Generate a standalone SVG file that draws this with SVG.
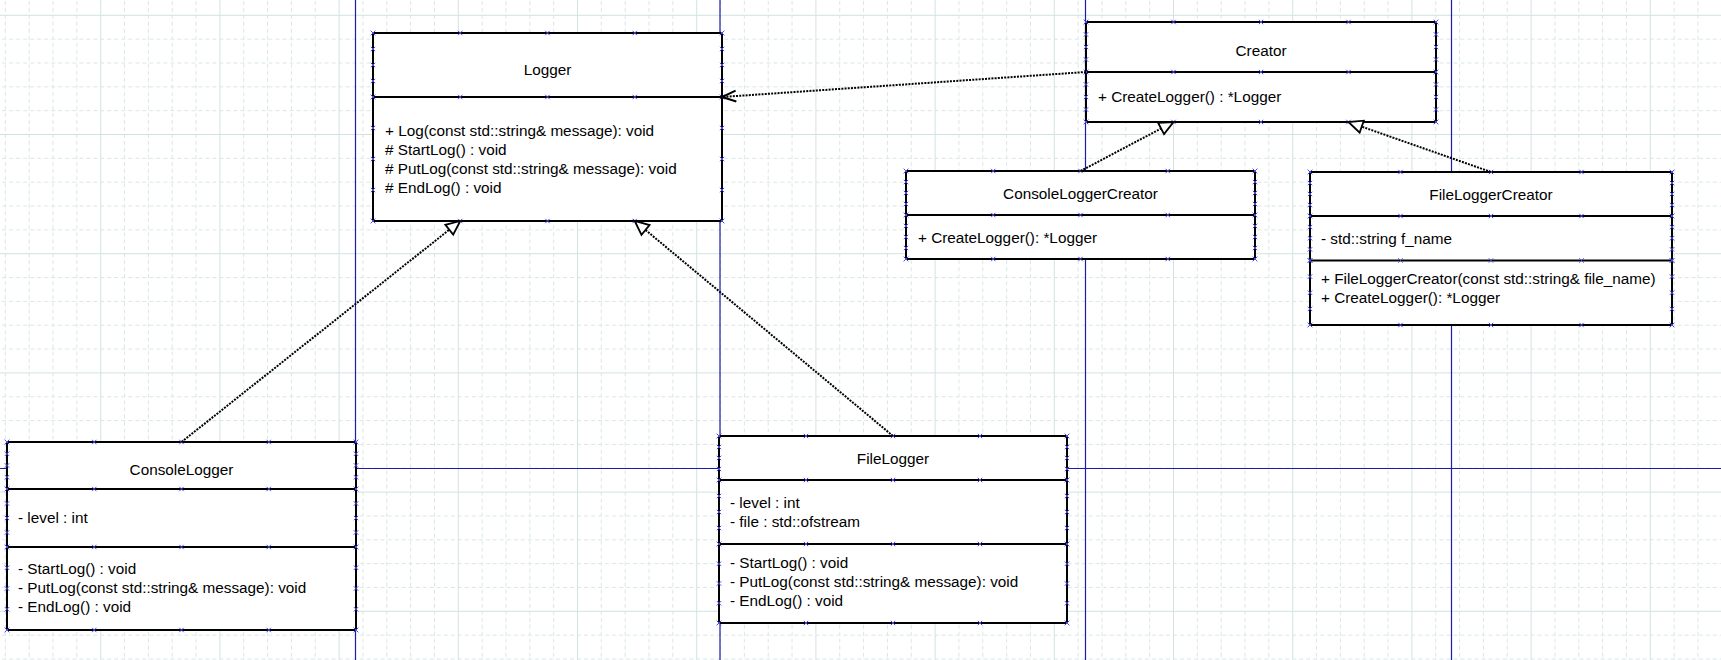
<svg xmlns="http://www.w3.org/2000/svg" width="1721" height="660" viewBox="0 0 1721 660">
<style>
.bx{fill:#fff;stroke:#000;stroke-width:2}
.dv{stroke:#000;stroke-width:2;fill:none}
text{font-family:"Liberation Sans",Arial,sans-serif;font-size:15.3px;fill:#000}
.t{text-anchor:middle}
.pts{fill:none;stroke:none;marker-start:url(#xm);marker-mid:url(#xm);marker-end:url(#xm)}
.conn{fill:none;stroke:#000;stroke-width:2;stroke-dasharray:2 1.2}
.inh{marker-end:url(#tri)}
.dep{marker-end:url(#vee)}
.gmaj{stroke:#d2e2e2;stroke-width:1;fill:none}
.gmin{stroke:#d9e6e6;stroke-width:1;fill:none;stroke-dasharray:4 3.012}
.blue{stroke:#1c1ca8;stroke-width:1.2;fill:none}
</style>
<defs>
<pattern id="grid" patternUnits="userSpaceOnUse" x="-19" y="14.8" width="119.2" height="119.2">
<path class="gmin" d="M24.34 0V119.2M48.18 0V119.2M72.02 0V119.2M95.86 0V119.2M0 24.34H119.2M0 48.18H119.2M0 72.02H119.2M0 95.86H119.2"/>
<path class="gmaj" d="M0.5 0V119.2M0 0.5H119.2"/>
</pattern>
<marker id="xm" markerUnits="userSpaceOnUse" markerWidth="8" markerHeight="8" refX="4" refY="4" viewBox="0 0 8 8" orient="0">
<path d="M1.8 1.8L6.2 6.2M6.2 1.8L1.8 6.2" stroke="#4a4ae6" stroke-width="1" fill="none"/>
</marker>
<marker id="tri" markerUnits="userSpaceOnUse" markerWidth="1" markerHeight="1" refX="0" refY="0" orient="auto" overflow="visible">
<path d="M0 0L-14 -6.3L-14 6.3Z" fill="#fff" stroke="#000" stroke-width="1.8"/>
</marker>
<marker id="vee" markerUnits="userSpaceOnUse" markerWidth="1" markerHeight="1" refX="0" refY="0" orient="auto" overflow="visible">
<path d="M-14 -5.5L0 0L-14 5.5" fill="none" stroke="#000" stroke-width="2"/>
</marker>
</defs>
<rect x="0" y="0" width="1721" height="660" fill="#fff"/>
<rect x="0" y="0" width="1721" height="660" fill="url(#grid)"/>
<g id="page-bounds">
<path class="blue" d="M355.5 0V660M720 0V660M1085.5 0V660M1451.5 0V660M0 468.5H1721"/>
</g>

<g id="Logger">
<rect class="bx" x="373" y="33" width="349" height="188"/>
<path class="dv" d="M373 97H722"/>
<text class="t" x="547.5" y="75">Logger</text>
<text x="385" y="135.5">+ Log(const std::string&amp; message): void</text>
<text x="385" y="154.5"># StartLog() : void</text>
<text x="385" y="173.5"># PutLog(const std::string&amp; message): void</text>
<text x="385" y="192.5"># EndLog() : void</text>
<path class="pts" d="M373 33H460.25H547.5H634.75H722M373 97H460.25H547.5H634.75H722M373 221H460.25H547.5H634.75H722M373 33V49V65V81V97V128V159V190V221M722 33V49V65V81V97V128V159V190V221"/>
</g>

<g id="Creator">
<rect class="bx" x="1086" y="22" width="350" height="100"/>
<path class="dv" d="M1086 72H1436"/>
<text class="t" x="1261" y="55.5">Creator</text>
<text x="1098" y="102">+ CreateLogger() : *Logger</text>
<path class="pts" d="M1086 22H1173.5H1261H1348.5H1436M1086 72H1173.5H1261H1348.5H1436M1086 122H1173.5H1261H1348.5H1436M1086 22V34.5V47V59.5V72V84.5V97V109.5V122M1436 22V34.5V47V59.5V72V84.5V97V109.5V122"/>
</g>

<g id="ConsoleLoggerCreator">
<rect class="bx" x="906" y="171" width="349" height="88"/>
<path class="dv" d="M906 215H1255"/>
<text class="t" x="1080.5" y="199">ConsoleLoggerCreator</text>
<text x="918" y="243">+ CreateLogger(): *Logger</text>
<path class="pts" d="M906 171H993.25H1080.5H1167.75H1255M906 215H993.25H1080.5H1167.75H1255M906 259H993.25H1080.5H1167.75H1255M906 171V182V193V204V215V226V237V248V259M1255 171V182V193V204V215V226V237V248V259"/>
</g>

<g id="FileLoggerCreator">
<rect class="bx" x="1310" y="172" width="362" height="153"/>
<path class="dv" d="M1310 216H1672M1310 260.5H1672"/>
<text class="t" x="1491" y="200">FileLoggerCreator</text>
<text x="1321" y="244">- std::string f_name</text>
<text x="1321" y="284">+ FileLoggerCreator(const std::string&amp; file_name)</text>
<text x="1321" y="303">+ CreateLogger(): *Logger</text>
<path class="pts" d="M1310 172H1400.5H1491H1581.5H1672M1310 216H1400.5H1491H1581.5H1672M1310 260.5H1400.5H1491H1581.5H1672M1310 325H1400.5H1491H1581.5H1672M1310 172V183V194V205V216V227.1V238.25V249.4V260.5V276.6V292.75V308.9V325M1672 172V183V194V205V216V227.1V238.25V249.4V260.5V276.6V292.75V308.9V325"/>
</g>

<g id="ConsoleLogger">
<rect class="bx" x="7" y="442" width="349" height="188"/>
<path class="dv" d="M7 489H356M7 547H356"/>
<text class="t" x="181.5" y="475">ConsoleLogger</text>
<text x="18" y="522.5">- level : int</text>
<text x="18" y="574">- StartLog() : void</text>
<text x="18" y="593">- PutLog(const std::string&amp; message): void</text>
<text x="18" y="612">- EndLog() : void</text>
<path class="pts" d="M7 442H94.25H181.5H268.75H356M7 489H94.25H181.5H268.75H356M7 547H94.25H181.5H268.75H356M7 630H94.25H181.5H268.75H356M7 442V453.75V465.5V477.25V489V503.5V518V532.5V547V567.75V588.5V609.25V630M356 442V453.75V465.5V477.25V489V503.5V518V532.5V547V567.75V588.5V609.25V630"/>
</g>

<g id="FileLogger">
<rect class="bx" x="719" y="436" width="348" height="187"/>
<path class="dv" d="M719 480H1067M719 544H1067"/>
<text class="t" x="893" y="464">FileLogger</text>
<text x="730" y="508">- level : int</text>
<text x="730" y="526.5">- file : std::ofstream</text>
<text x="730" y="568">- StartLog() : void</text>
<text x="730" y="587">- PutLog(const std::string&amp; message): void</text>
<text x="730" y="605.5">- EndLog() : void</text>
<path class="pts" d="M719 436H806H893H980H1067M719 480H806H893H980H1067M719 544H806H893H980H1067M719 623H806H893H980H1067M719 436V447V458V469V480V496V512V528V544V563.75V583.5V603.25V623M1067 436V447V458V469V480V496V512V528V544V563.75V583.5V603.25V623"/>
</g>

<g id="connectors">
<path class="conn dep" d="M1086 72L722 97"/>
<path class="conn inh" d="M181.5 442L460.25 221"/>
<path class="conn inh" d="M893 436L634.75 221"/>
<path class="conn inh" d="M1080.5 171L1173.5 122"/>
<path class="conn inh" d="M1491 172L1348.5 122"/>
</g>
</svg>
